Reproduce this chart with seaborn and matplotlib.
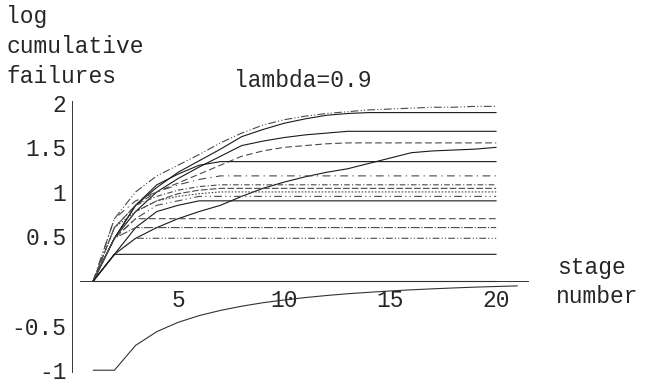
import numpy as np
import pandas as pd
import matplotlib
matplotlib.use("Agg")
import matplotlib.pyplot as plt
import matplotlib.ticker as mticker
import seaborn as sns

# ---------------- data ----------------
stages = list(range(1, 21))
stages_low = list(range(1, 22))

s00 = [0.0] * 20
s01 = [0, 0.70, 1.00, 1.18, 1.30, 1.42, 1.55, 1.66, 1.75, 1.81, 1.85, 1.88, 1.90, 1.92, 1.93, 1.94, 1.95, 1.95, 1.96, 1.96]
s02 = [0, 0.48, 0.85, 1.05, 1.22, 1.35, 1.48, 1.62, 1.70, 1.77, 1.82, 1.86, 1.88, 1.89, 1.89, 1.89, 1.89, 1.89, 1.89, 1.89]
s03 = [0, 0.48, 0.78, 1.00, 1.15, 1.28, 1.40, 1.52, 1.57, 1.61, 1.64, 1.66, 1.68, 1.68, 1.68, 1.68, 1.68, 1.68, 1.68, 1.68]
s04 = [0, 0.60, 0.85, 1.00, 1.10, 1.20, 1.30, 1.40, 1.46, 1.50, 1.52, 1.54, 1.55, 1.55, 1.55, 1.55, 1.55, 1.55, 1.55, 1.55]
s05 = [0, 0.30, 0.48, 0.60, 0.70, 0.78, 0.85, 0.95, 1.04, 1.11, 1.17, 1.22, 1.26, 1.32, 1.38, 1.44, 1.46, 1.47, 1.48, 1.50]
s06 = [0, 0.48, 0.85, 1.08, 1.20, 1.30, 1.34, 1.34, 1.34, 1.34, 1.34, 1.34, 1.34, 1.34, 1.34, 1.34, 1.34, 1.34, 1.34, 1.34]
s07 = [0, 0.70, 0.90, 1.00, 1.08, 1.14, 1.18, 1.18, 1.18, 1.18, 1.18, 1.18, 1.18, 1.18, 1.18, 1.18, 1.18, 1.18, 1.18, 1.18]
s08 = [0, 0.60, 0.85, 0.95, 1.02, 1.06, 1.08, 1.08, 1.08, 1.08, 1.08, 1.08, 1.08, 1.08, 1.08, 1.08, 1.08, 1.08, 1.08, 1.08]
s09 = [0, 0.48, 0.78, 0.90, 0.98, 1.02, 1.04, 1.04, 1.04, 1.04, 1.04, 1.04, 1.04, 1.04, 1.04, 1.04, 1.04, 1.04, 1.04, 1.04]
s10 = [0, 0.60, 0.78, 0.90, 0.95, 0.98, 1.00, 1.00, 1.00, 1.00, 1.00, 1.00, 1.00, 1.00, 1.00, 1.00, 1.00, 1.00, 1.00, 1.00]
s11 = [0, 0.48, 0.70, 0.85, 0.90, 0.95, 0.95, 0.95, 0.95, 0.95, 0.95, 0.95, 0.95, 0.95, 0.95, 0.95, 0.95, 0.95, 0.95, 0.95]
s12 = [0, 0.30, 0.60, 0.78, 0.85, 0.90, 0.90, 0.90, 0.90, 0.90, 0.90, 0.90, 0.90, 0.90, 0.90, 0.90, 0.90, 0.90, 0.90, 0.90]
s13 = [0, 0.48, 0.70, 0.70, 0.70, 0.70, 0.70, 0.70, 0.70, 0.70, 0.70, 0.70, 0.70, 0.70, 0.70, 0.70, 0.70, 0.70, 0.70, 0.70]
s14 = [0, 0.48, 0.60, 0.60, 0.60, 0.60, 0.60, 0.60, 0.60, 0.60, 0.60, 0.60, 0.60, 0.60, 0.60, 0.60, 0.60, 0.60, 0.60, 0.60]
s15 = [0, 0.30, 0.48, 0.48, 0.48, 0.48, 0.48, 0.48, 0.48, 0.48, 0.48, 0.48, 0.48, 0.48, 0.48, 0.48, 0.48, 0.48, 0.48, 0.48]
s16 = [0, 0.30, 0.30, 0.30, 0.30, 0.30, 0.30, 0.30, 0.30, 0.30, 0.30, 0.30, 0.30, 0.30, 0.30, 0.30, 0.30, 0.30, 0.30, 0.30]
s_low = [-1.0, -1.0, -0.721, -0.567, -0.463, -0.387, -0.329, -0.282, -0.243, -0.212, -0.185,
         -0.162, -0.142, -0.126, -0.111, -0.098, -0.087, -0.077, -0.068, -0.061, -0.054]

x_major = [5, 10, 15, 20]
x_labels = ["5", "10", "15", "20"]
y_major = [-1, -0.5, 0.5, 1, 1.5, 2]
y_labels = ["-1", "-0.5", "0.5", "1", "1.5", "2"]
title = "lambda=0.9"
ylabel_lines = ["log", "cumulative", "failures"]
xlabel_lines = ["stage", "number"]

upper = {"s00": s00, "s01": s01, "s02": s02, "s03": s03, "s04": s04, "s05": s05,
         "s06": s06, "s07": s07, "s08": s08, "s09": s09, "s10": s10, "s11": s11,
         "s12": s12, "s13": s13, "s14": s14, "s15": s15, "s16": s16}

frames = [pd.DataFrame({"stage": stages, "value": v, "series": k}) for k, v in upper.items()]
frames.append(pd.DataFrame({"stage": stages_low, "value": s_low, "series": "low"}))
df = pd.concat(frames, ignore_index=True)

# ---------------- styles ----------------
dash_map = {
    "s00": "", "s01": (7, 2, 1, 2, 1, 2), "s02": "", "s03": "", "s04": (6, 3),
    "s05": "", "s06": "", "s07": (7, 4, 1, 4), "s08": (5, 2, 1, 2), "s09": (6, 2),
    "s10": (1.5, 1.5), "s11": (7, 3, 1, 3, 1, 3), "s12": "", "s13": (6, 3),
    "s14": (8, 1.5, 1, 1.5), "s15": (6, 2, 1, 2, 1, 2), "s16": "", "low": "",
}
color_map = {k: ("#1a1a1a" if dash_map[k] == "" else "#4a4a4a") for k in dash_map}
color_map["low"] = "#333333"
color_map["s00"] = "#000000"

sns.set_style("white")
plt.rcParams["font.family"] = ["Liberation Mono", "DejaVu Sans Mono"]
plt.rcParams["axes.unicode_minus"] = False

W, H = 646, 379
fig = plt.figure(figsize=(W / 100, H / 100), dpi=100)
# axes: x=0 at px 72, x=21.5 at px 528; y=2.02 at px 101, y=-1.02 at px 372
ax = fig.add_axes([72 / W, (H - 372) / H, 456 / W, 271 / H])
ax.set_facecolor("white")

sns.lineplot(data=df, x="stage", y="value", hue="series", style="series",
             palette=color_map, dashes=dash_map, legend=False, linewidth=0.8,
             ax=ax, estimator=None, sort=False)
for ln in ax.lines:
    if ln.get_color() == "#000000" or ln.get_color() == (0.0, 0.0, 0.0, 1.0):
        pass

ax.set_xlim(0, 21.5)
ax.set_ylim(-1.02, 2.02)
ax.set_xlabel("")
ax.set_ylabel("")

for s in ["top", "right"]:
    ax.spines[s].set_visible(False)
ax.spines["left"].set_position(("data", 0))
ax.spines["bottom"].set_position(("data", 0))
ax.spines["bottom"].set_bounds(0.4, 21.5)
ax.spines["left"].set_bounds(-1.02, 2.02)
for s in ["left", "bottom"]:
    ax.spines[s].set_color("#333333")
    ax.spines[s].set_linewidth(0.7)

ax.xaxis.set_major_locator(mticker.FixedLocator(x_major))
ax.xaxis.set_major_formatter(mticker.FixedFormatter(x_labels))
ax.xaxis.set_minor_locator(mticker.FixedLocator([i for i in range(1, 22) if i % 5]))
ax.yaxis.set_major_locator(mticker.FixedLocator(y_major))
ax.yaxis.set_major_formatter(mticker.FixedFormatter(y_labels))
ax.yaxis.set_minor_locator(mticker.FixedLocator([round(-1 + 0.1 * i, 2) for i in range(31) if i % 5]))

ax.tick_params(axis="x", which="major", direction="in", length=4, width=0.7, color="#333333",
               labelsize=16.5, pad=6)
ax.tick_params(axis="x", which="minor", direction="in", length=2, width=0.6, color="#333333")
ax.tick_params(axis="y", which="major", direction="in", length=4, width=0.7, color="#333333",
               labelsize=16.5, pad=4)
ax.tick_params(axis="y", which="minor", direction="in", length=2, width=0.6, color="#333333")

fs = 16.5
def ftext(px, py, s, **kw):
    fig.text(px / W, 1 - py / H, s, fontsize=fs, va="baseline", ha="left", **kw)

for s_, by in zip(ylabel_lines, [23, 53, 83]):
    ftext(6, by, s_)
ftext(234, 87, title)
ftext(557, 274, xlabel_lines[0])
ftext(556, 303, xlabel_lines[1])

fig.savefig("out.png", dpi=100)
